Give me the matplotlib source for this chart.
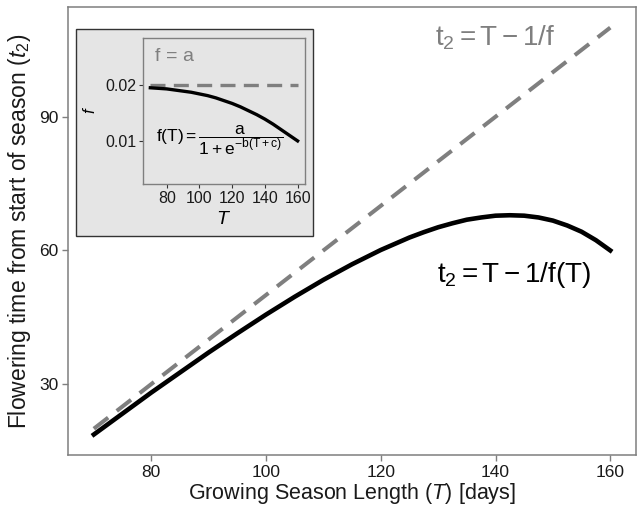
import matplotlib
matplotlib.use('Agg')
import matplotlib.pyplot as plt
from matplotlib.patches import Rectangle

plt.rcParams['font.family'] = ['Liberation Sans', 'DejaVu Sans']
plt.rcParams['mathtext.fontset'] = 'custom'
plt.rcParams['mathtext.rm'] = 'Liberation Sans'
plt.rcParams['mathtext.it'] = 'Liberation Sans:italic'
plt.rcParams['mathtext.bf'] = 'Liberation Sans:bold'

# season length T (days)
season_T = [70, 75, 80, 85, 90, 95, 100, 105, 110, 115, 120, 125, 127.5, 130, 132.5, 135, 137.5,
            140, 142.5, 145, 147.5, 150, 152.5, 155, 157.5, 160]
# flowering time t2
t2_curve = [18.7, 23.4, 28.1, 32.6, 37.1, 41.4, 45.6, 49.6, 53.4, 56.9, 60.1, 62.9, 64.1, 65.2, 66.1, 66.9, 67.4,
            67.8, 67.9, 67.8, 67.4, 66.7, 65.6, 64.2, 62.3, 60.0]
# constant-f line (f = a)
const_T = [70, 160]
t2_const = [20, 110]
# inset: f(T)
inset_T = [70, 75, 80, 85, 90, 95, 100, 105, 110, 115, 120, 125, 130, 135, 140, 145, 150, 155, 160]
f_curve = [0.0195, 0.0194, 0.0193, 0.0191, 0.0189, 0.0187, 0.0184, 0.0181, 0.0177, 0.0172, 0.0167, 0.0161,
           0.0154, 0.0147, 0.0139, 0.0130, 0.0120, 0.0110, 0.0100]
f_const = [0.02, 0.02]

grey = '#7f7f7f'
panel_grey = '#e5e5e5'

fig = plt.figure(figsize=(6.38, 5.08), dpi=100)

# main panel
ax = fig.add_axes([0.1066, 0.1043, 0.8904, 0.8817])
ax.plot(const_T, t2_const, color=grey, lw=2.9, dashes=(4.5, 2.7), solid_capstyle='butt')
ax.plot(season_T, t2_curve, color='black', lw=3.3, solid_joinstyle='round')
ax.set_xlim(65.5, 164.5)
ax.set_ylim(14.1, 114.6)
ax.set_xticks([80, 100, 120, 140, 160])
ax.set_yticks([30, 60, 90])
for s in ax.spines.values():
    s.set_color(grey)
    s.set_linewidth(1.1)
ax.tick_params(length=4, width=1, color=grey, labelsize=12.5, labelcolor='#1a1a1a', pad=3)
ax.set_xlabel(r'Growing Season Length ($T$) [days]', fontsize=15.5, color='#1a1a1a', labelpad=1)
ax.set_ylabel(r'Flowering time from start of season ($t_2$)', fontsize=16.5, color='#1a1a1a', labelpad=4)
ax.text(139.9, 107.7, r'$\mathrm{t}_2 = \mathrm{T} - 1/\mathrm{f}$', color=grey, fontsize=20,
        ha='center', va='center')
ax.text(143.2, 54.4, r'$\mathrm{t}_2 = \mathrm{T} - 1/\mathrm{f(T)}$', color='black', fontsize=20,
        ha='center', va='center')

# inset background box
box = Rectangle((0.1191, 0.5354), 0.3715, 0.4075, transform=fig.transFigure,
                facecolor=panel_grey, edgecolor='#333333', lw=1.0, zorder=3)
fig.patches.append(box)

ins = fig.add_axes([0.2241, 0.6378, 0.2539, 0.2874], zorder=4)
ins.set_facecolor(panel_grey)
ins.plot(const_T, f_const, color=grey, lw=2.4, dashes=(4.5, 2.5))
ins.plot(inset_T, f_curve, color='black', lw=2.4)
ins.set_xlim(65.5, 164.5)
ins.set_ylim(0.0023, 0.0284)
ins.set_xticks([80, 100, 120, 140, 160])
ins.set_yticks([0.01, 0.02])
ins.set_yticklabels(['0.01', '0.02'])
for s in ins.spines.values():
    s.set_color(grey)
    s.set_linewidth(1.0)
ins.tick_params(length=3, width=0.8, color='#333333', labelsize=11.5, labelcolor='#1a1a1a', pad=2)
ins.set_xlabel(r'$T$', fontsize=14, labelpad=4)
fig.text(90 / 638, 1 - 110 / 508, r'$f$', rotation=90, fontsize=12, ha='center', va='center', zorder=5)
ins.text(0.07, 0.87, r'$\mathrm{f\,=\,a}$', transform=ins.transAxes, color=grey, fontsize=14,
         ha='left', va='center')
ins.text(0.08, 0.30, r'$\mathrm{f(T)} = \dfrac{\mathrm{a}}{1 + \mathrm{e}^{-\mathrm{b(T+c)}}}$',
         transform=ins.transAxes, color='black', fontsize=12.5, ha='left', va='center')

fig.savefig('out.png', dpi=100)
